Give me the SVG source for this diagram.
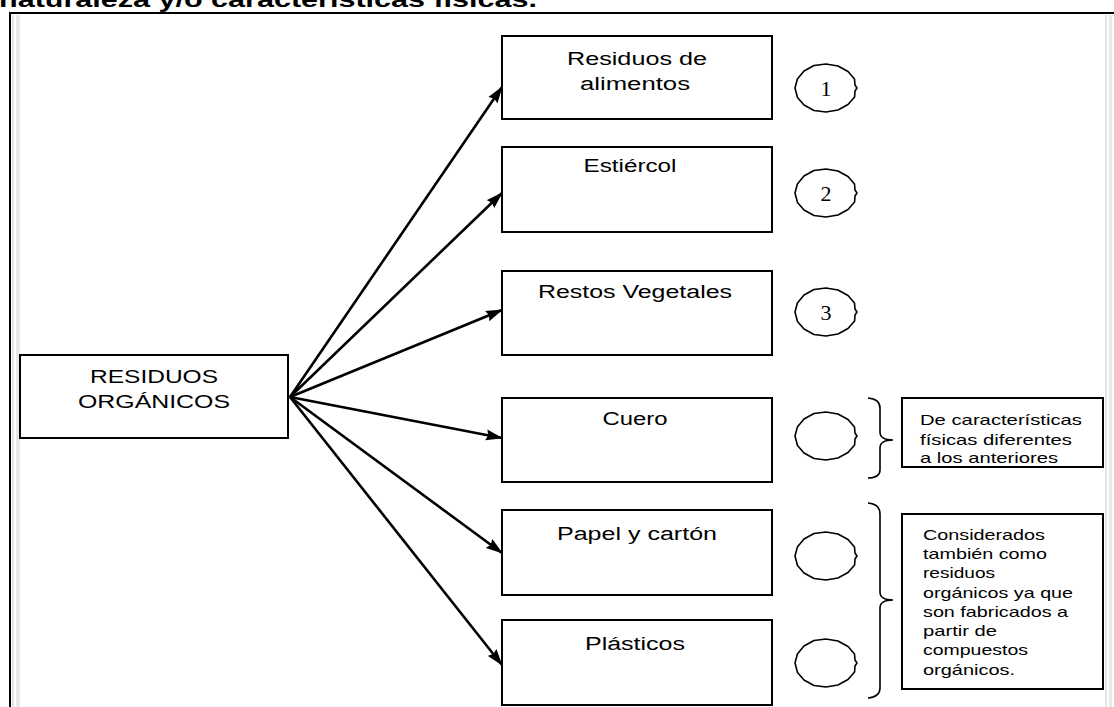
<svg xmlns="http://www.w3.org/2000/svg" width="1114" height="707" viewBox="0 0 1114 707">
<style>
.box{fill:#fff;stroke:#000;stroke-width:2}
.lbl{font-family:"Liberation Sans",Arial,sans-serif;font-size:18px;fill:#000;text-anchor:middle}
.side{font-family:"Liberation Sans",Arial,sans-serif;font-size:15px;fill:#000}
.num{font-family:"Liberation Serif","Times New Roman",serif;font-size:22px;fill:#000;text-anchor:middle}
.circ{fill:none;stroke:#000;stroke-width:1.6;stroke-linejoin:round}
.brace{fill:none;stroke:#000;stroke-width:1.6}
.conn line{stroke:#000;stroke-width:2.6}
</style>
<defs>
<marker id="ah" markerUnits="userSpaceOnUse" markerWidth="17" markerHeight="12" refX="16" refY="6" orient="auto">
<path d="M0,0.5 L17,6 L0,11.5 L2,6 Z" fill="#000"/>
</marker>
<path id="cir" d="M29,-3 L31,0 L29,3 L28.6,9 L22,16.5 L12,22 L0,24 L-12,22.5 L-22,17 L-28.5,9.5 L-31,0 L-28.6,-9 L-22,-17 L-12,-22.5 L0,-24 L12,-22 L22,-16.5 L28.5,-9 Z"/>
</defs>
<rect width="1114" height="707" fill="#fff"/>
<text x="-1" y="7" font-family="Liberation Sans,Arial,sans-serif" font-weight="bold" font-size="22" textLength="538" lengthAdjust="spacingAndGlyphs">naturaleza y/o características físicas.</text>
<g id="frame">
<rect x="12" y="15" width="2" height="692" fill="#e3e3e3"/>
<rect x="16" y="15" width="4" height="692" fill="#e8e8e8"/>
<rect x="1105" y="15" width="2" height="692" fill="#e3e3e3"/>
<rect x="1109" y="15" width="3" height="692" fill="#e8e8e8"/>
<line x1="10" y1="13" x2="1114" y2="13" stroke="#000" stroke-width="2"/>
<line x1="10" y1="12" x2="10" y2="707" stroke="#000" stroke-width="2"/>
</g>
<g id="conectores" class="conn">
<line x1="290" y1="397" x2="502" y2="87" marker-end="url(#ah)"/>
<line x1="290" y1="397" x2="502" y2="193" marker-end="url(#ah)"/>
<line x1="290" y1="397" x2="502" y2="310" marker-end="url(#ah)"/>
<line x1="290" y1="397" x2="502" y2="438" marker-end="url(#ah)"/>
<line x1="290" y1="397" x2="502" y2="553" marker-end="url(#ah)"/>
<line x1="290" y1="397" x2="502" y2="665" marker-end="url(#ah)"/>
</g>
<g id="residuos-organicos">
<rect class="box" x="20" y="355" width="268" height="83"/>
<text class="lbl" x="154" y="383" textLength="128" lengthAdjust="spacingAndGlyphs">RESIDUOS</text>
<text class="lbl" x="154" y="408" textLength="152" lengthAdjust="spacingAndGlyphs">ORGÁNICOS</text>
</g>
<g id="residuos-alimentos">
<rect class="box" x="502" y="36" width="270" height="83"/>
<text class="lbl" x="637" y="65" textLength="140" lengthAdjust="spacingAndGlyphs">Residuos de</text>
<text class="lbl" x="635" y="90" textLength="110" lengthAdjust="spacingAndGlyphs">alimentos</text>
</g>
<g id="estiercol">
<rect class="box" x="502" y="147" width="270" height="85"/>
<text class="lbl" x="630" y="172" textLength="93" lengthAdjust="spacingAndGlyphs">Estiércol</text>
</g>
<g id="restos-vegetales">
<rect class="box" x="502" y="271" width="270" height="84"/>
<text class="lbl" x="635" y="298" textLength="194" lengthAdjust="spacingAndGlyphs">Restos Vegetales</text>
</g>
<g id="cuero">
<rect class="box" x="502" y="398" width="270" height="84"/>
<text class="lbl" x="635" y="425" textLength="65" lengthAdjust="spacingAndGlyphs">Cuero</text>
</g>
<g id="papel-carton">
<rect class="box" x="502" y="510" width="270" height="85"/>
<text class="lbl" x="637" y="540" textLength="160" lengthAdjust="spacingAndGlyphs">Papel y cartón</text>
</g>
<g id="plasticos">
<rect class="box" x="502" y="620" width="270" height="85"/>
<text class="lbl" x="635" y="650" textLength="100" lengthAdjust="spacingAndGlyphs">Plásticos</text>
</g>
<g id="circulo-1"><use href="#cir" class="circ" transform="translate(826,88)"/><text class="num" x="826" y="96">1</text></g>
<g id="circulo-2"><use href="#cir" class="circ" transform="translate(826,193)"/><text class="num" x="826" y="201">2</text></g>
<g id="circulo-3"><use href="#cir" class="circ" transform="translate(826,312)"/><text class="num" x="826" y="320">3</text></g>
<g id="circulo-4"><use href="#cir" class="circ" transform="translate(826,436)"/></g>
<g id="circulo-5"><use href="#cir" class="circ" transform="translate(826,556)"/></g>
<g id="circulo-6"><use href="#cir" class="circ" transform="translate(826,663)"/></g>
<g id="llave-1">
<path class="brace" d="M868,398 Q880,399 880,408 L880,432 Q880,440 893,440 Q880,440 880,448 L880,470 Q880,478 868,478"/>
</g>
<g id="llave-2">
<path class="brace" d="M868,503 Q880,504 880,514 L880,592 Q880,600 893,600 Q880,600 880,608 L880,688 Q880,697 868,698"/>
</g>
<g id="nota-1">
<rect class="box" x="902" y="398" width="201" height="69"/>
<text class="side" x="920" y="425" textLength="162" lengthAdjust="spacingAndGlyphs">De características</text>
<text class="side" x="920" y="445" textLength="152" lengthAdjust="spacingAndGlyphs">físicas diferentes</text>
<text class="side" x="920" y="463" textLength="138" lengthAdjust="spacingAndGlyphs">a los anteriores</text>
</g>
<g id="nota-2">
<rect class="box" x="902" y="514" width="201" height="175"/>
<text class="side" x="923" y="540" textLength="122" lengthAdjust="spacingAndGlyphs">Considerados</text>
<text class="side" x="923" y="559" textLength="124" lengthAdjust="spacingAndGlyphs">también como</text>
<text class="side" x="923" y="578" textLength="72" lengthAdjust="spacingAndGlyphs">residuos</text>
<text class="side" x="923" y="598" textLength="150" lengthAdjust="spacingAndGlyphs">orgánicos ya que</text>
<text class="side" x="923" y="617" textLength="145" lengthAdjust="spacingAndGlyphs">son fabricados a</text>
<text class="side" x="923" y="636" textLength="74" lengthAdjust="spacingAndGlyphs">partir de</text>
<text class="side" x="923" y="655" textLength="105" lengthAdjust="spacingAndGlyphs">compuestos</text>
<text class="side" x="923" y="675" textLength="92" lengthAdjust="spacingAndGlyphs">orgánicos.</text>
</g>
</svg>
